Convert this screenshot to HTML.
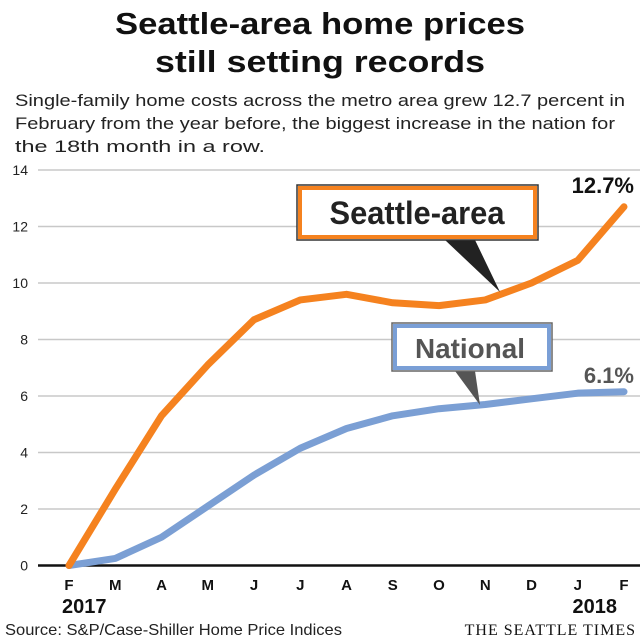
<!DOCTYPE html>
<html><head><meta charset="utf-8"><style>
body{margin:0;background:#fff;}
svg{display:block;font-family:"Liberation Sans",sans-serif;}
</style></head><body>
<svg width="640" height="640" viewBox="0 0 640 640">
<text x="320" y="34" text-anchor="middle" font-size="31" font-weight="bold" fill="#111" textLength="410" lengthAdjust="spacingAndGlyphs">Seattle-area home prices</text>
<text x="320" y="72" text-anchor="middle" font-size="31" font-weight="bold" fill="#111" textLength="330" lengthAdjust="spacingAndGlyphs">still setting records</text>
<g font-size="17" fill="#222">
<text x="15" y="106" textLength="610" lengthAdjust="spacingAndGlyphs">Single-family home costs across the metro area grew 12.7 percent in</text>
<text x="15" y="129" textLength="600" lengthAdjust="spacingAndGlyphs">February from the year before, the biggest increase in the nation for</text>
<text x="15" y="152" textLength="250" lengthAdjust="spacingAndGlyphs">the 18th month in a row.</text>
</g>
<g id="grid"></g>
<g id="series"></g>
<g id="annot">
<polygon points="445,240 475,240 500,292" fill="#222"/>
<rect x="297" y="185" width="241" height="55" fill="#fff" stroke="#333" stroke-width="1.5"/>
<rect x="300" y="188" width="235" height="49" fill="none" stroke="#f5821f" stroke-width="4"/>
<text x="417" y="224" text-anchor="middle" font-size="32" font-weight="bold" fill="#222" textLength="175" lengthAdjust="spacingAndGlyphs">Seattle-area</text>
<polygon points="455,371 475,371 480,405" fill="#555"/>
<rect x="392" y="323" width="160" height="48" fill="#fff" stroke="#666" stroke-width="1.5"/>
<rect x="395" y="326" width="154" height="42" fill="none" stroke="#7a9fd6" stroke-width="4"/>
<text x="470" y="358" text-anchor="middle" font-size="28" font-weight="bold" fill="#555" textLength="110" lengthAdjust="spacingAndGlyphs">National</text>
<text x="634" y="193" text-anchor="end" font-size="22" font-weight="bold" fill="#111">12.7%</text>
<text x="634" y="383" text-anchor="end" font-size="22" font-weight="bold" fill="#555">6.1%</text>
</g>
<text x="62" y="613" text-anchor="start" font-size="20" font-weight="bold" fill="#111">2017</text>
<text x="617" y="613" text-anchor="end" font-size="20" font-weight="bold" fill="#111">2018</text>
<text x="5" y="635" font-size="16" fill="#222" textLength="337" lengthAdjust="spacingAndGlyphs">Source: S&amp;P/Case-Shiller Home Price Indices</text>
<text x="636" y="635" text-anchor="end" font-family="Liberation Serif, serif" font-size="16" fill="#111" letter-spacing="1">THE SEATTLE TIMES</text>
</svg>
<script>
const months = ["F","M","A","M","J","J","A","S","O","N","D","J","F"];
const seattle = [0,2.7,5.3,7.1,8.7,9.4,9.6,9.3,9.2,9.4,10.0,10.8,12.7];
const national = [0,0.25,1.0,2.1,3.2,4.15,4.85,5.3,5.55,5.7,5.9,6.1,6.15];
const yTicks = [0,2,4,6,8,10,12,14];

const NS="http://www.w3.org/2000/svg";
const x = i => 69 + i*46.25;
const y = v => 565.5 - v*28.25;
function mk(tag, attrs, parent){const e=document.createElementNS(NS,tag);for(const k in attrs)e.setAttribute(k,attrs[k]);parent.appendChild(e);return e;}
const grid=document.getElementById('grid');
yTicks.forEach(t=>{
  const l=mk('line',{x1:38,x2:640,y1:y(t),y2:y(t),stroke:t===0?'#111':'#c8c8c8','stroke-width':t===0?2.5:1.5},grid);
  
  
  const tx=mk('text',{x:28,y:y(t)+5,'text-anchor':'end','font-size':14,fill:'#222'},grid);
  tx.textContent=t;
  
  
});
months.forEach((m,i)=>{
  const tx=mk('text',{x:x(i),y:590,'text-anchor':'middle','font-size':15,'font-weight':'bold',fill:'#111'},grid);
  tx.textContent=m;
  
  
});
const ser=document.getElementById('series');
function line(vals,color,name){
  const p=mk('polyline',{points:vals.map((v,i)=>x(i)+','+y(v)).join(' '),fill:'none',stroke:color,'stroke-width':7,'stroke-linejoin':'round','stroke-linecap':'round'},ser);
  
  
}
line(national,'#7b9fd4','national-line');
line(seattle,'#f5821f','seattle-line');
</script>
</body></html>
